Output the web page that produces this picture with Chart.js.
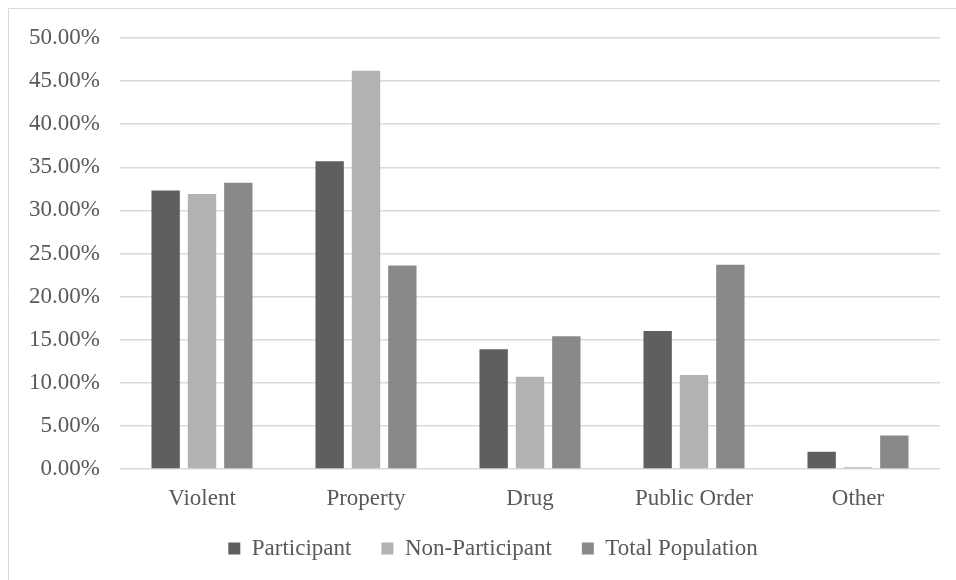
<!DOCTYPE html>
<html>
<head>
<meta charset="utf-8">
<script src="https://cdn.jsdelivr.net/npm/chart.js@4/dist/chart.umd.min.js"></script>
<style>
  html, body { margin: 0; padding: 0; background: #ffffff; }
  #wrap { position: relative; width: 956px; height: 580px; }
</style>
</head>
<body>
<div id="wrap"><canvas id="chart" width="956" height="580"></canvas></div>
<script>
// Offense categories and share of each group (percent)
const categories = ['Violent', 'Property', 'Drug', 'Public Order', 'Other'];
const participant = [32.3, 35.7, 13.9, 16.0, 2.0];
const nonParticipant = [31.9, 46.2, 10.7, 10.9, 0.2];
const totalPopulation = [33.2, 23.6, 15.4, 23.7, 3.9];
const seriesNames = ['Participant', 'Non-Participant', 'Total Population'];
const yTicks = [0, 5, 10, 15, 20, 25, 30, 35, 40, 45, 50];

const FONT = '"Liberation Serif", "Times New Roman", serif';
const TEXT = '#595959';

// Thin frame along the top and left edge of the chart object
const framePlugin = {
  id: 'frame',
  beforeDraw(chart) {
    const ctx = chart.ctx;
    ctx.save();
    ctx.fillStyle = '#ffffff';
    ctx.fillRect(0, 0, chart.width, chart.height);
    ctx.strokeStyle = '#d9d9d9';
    ctx.lineWidth = 1;
    ctx.beginPath();
    ctx.moveTo(8.5, chart.height);
    ctx.lineTo(8.5, 8.5);
    ctx.lineTo(chart.width, 8.5);
    ctx.stroke();
    ctx.restore();
  }
};

// Nudge the legend box so it sits centred under the whole chart frame
const legendOffsetPlugin = {
  id: 'legendOffset',
  afterLayout(chart) {
    const lg = chart.legend;
    if (!lg) return;
    lg.left += 23; lg.right += 23;
    lg.top -= 6; lg.bottom -= 6;
  }
};

new Chart(document.getElementById('chart'), {
  type: 'bar',
  data: {
    labels: categories,
    datasets: [
      { label: seriesNames[0], data: participant, backgroundColor: '#5f5f5f' },
      { label: seriesNames[1], data: nonParticipant, backgroundColor: '#b2b2b2' },
      { label: seriesNames[2], data: totalPopulation, backgroundColor: '#898989' }
    ]
  },
  options: {
    responsive: false,
    animation: false,
    datasets: { bar: { categoryPercentage: 0.665, barPercentage: 0.78 } },
    layout: { padding: { left: 0, right: 16, top: 38, bottom: 4 } },
    plugins: {
      legend: {
        position: 'bottom',
        labels: {
          font: { family: FONT, size: 23 },
          color: TEXT,
          boxWidth: 12,
          boxHeight: 12,
          padding: 30
        }
      },
      tooltip: { enabled: false }
    },
    scales: {
      x: {
        grid: { display: false, drawTicks: false },
        border: { display: false },
        ticks: { font: { family: FONT, size: 23 }, color: TEXT, padding: 16 },
        afterFit(s) { s.height = 44; }
      },
      y: {
        min: 0,
        max: 50,
        afterBuildTicks(s) { s.ticks = yTicks.map(v => ({ value: v })); },
        grid: { color: '#d9d9d9', lineWidth: 1.5, drawTicks: false },
        border: { display: false },
        ticks: {
          font: { family: FONT, size: 23 },
          color: TEXT,
          padding: 20,
          callback: v => v.toFixed(2) + '%'
        },
        afterFit(s) { s.width = 120; }
      }
    }
  },
  plugins: [framePlugin, legendOffsetPlugin]
});
</script>
</body>
</html>
